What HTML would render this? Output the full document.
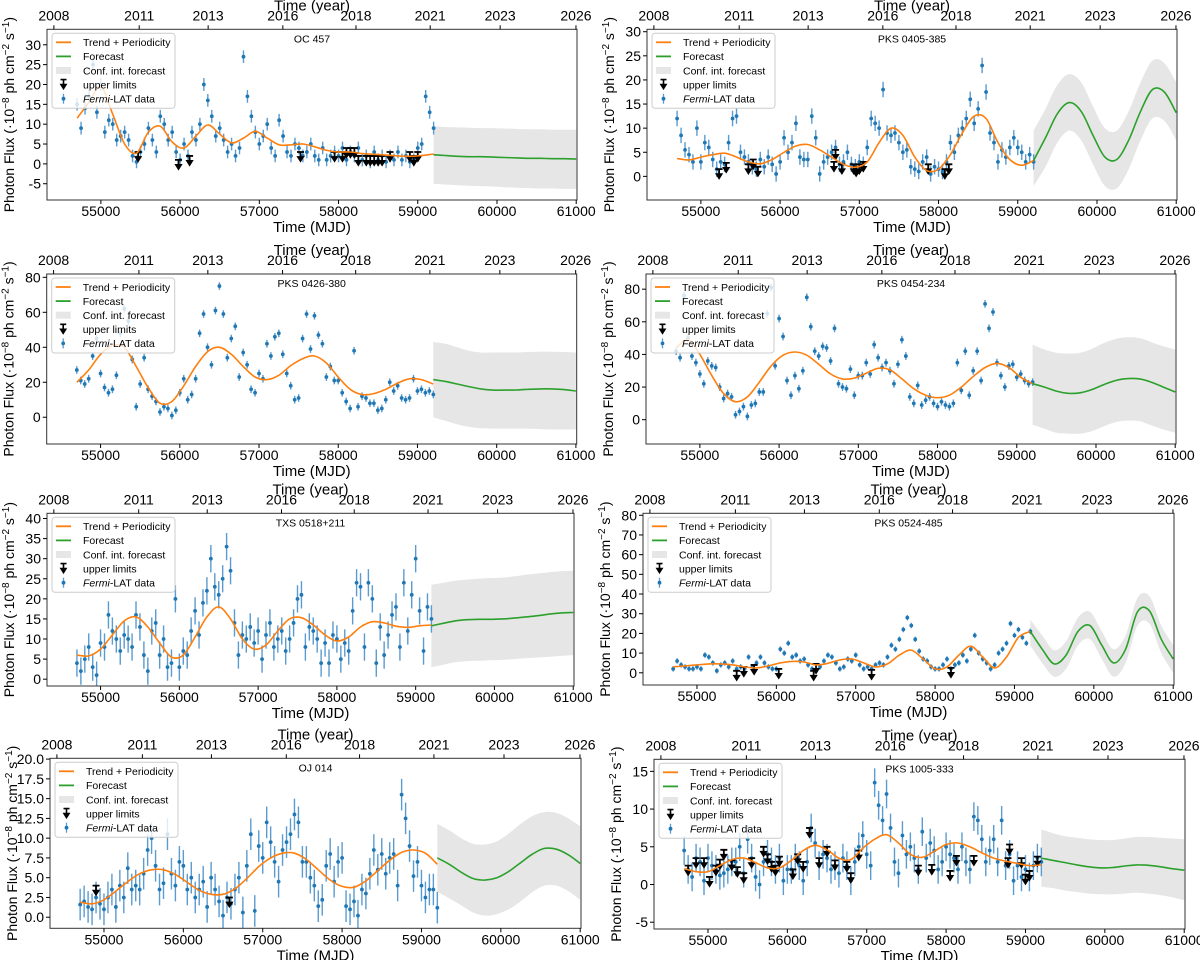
<!DOCTYPE html>
<html><head><meta charset="utf-8">
<style>
html,body{margin:0;padding:0;background:#fff;}
svg{display:block;font-family:"Liberation Sans",sans-serif;}
</style></head>
<body>
<svg id="fig" width="1200" height="960" viewBox="0 0 1200 960" xmlns="http://www.w3.org/2000/svg"></svg>
<script>
const MJD=[54700,54750,54800,54850,54900,54950,55000,55050,55100,55150,55200,55250,55300,55350,55400,55450,55500,55550,55600,55650,55700,55750,55800,55850,55900,55950,56000,56050,56100,56150,56200,56250,56300,56350,56400,56450,56500,56550,56600,56650,56700,56750,56800,56850,56900,56950,57000,57050,57100,57150,57200,57250,57300,57350,57400,57450,57500,57550,57600,57650,57700,57750,57800,57850,57900,57950,58000,58050,58100,58150,58200,58250,58300,58350,58400,58450,58500,58550,58600,58650,58700,58750,58800,58850,58900,58950,59000,59050,59100,59150,59200];
const TREND_MJD=[54700,54850,55000,55150,55300,55450,55600,55750,55900,56050,56200,56350,56500,56650,56800,56950,57100,57250,57400,57550,57700,57850,58000,58150,58300,58450,58600,58750,58900,59050,59200];
const FC_MJD=[59200,59350,59500,59650,59800,59950,60100,60250,60400,60550,60700,60850,61000];
const MJD_TICKS=[55000,56000,57000,58000,59000,60000,61000];
const YEAR_POS=[54407,55484,56354,57297,58220,59157,60040,60997];
const YEAR_LABELS=["2008","2011","2013","2016","2018","2021","2023","2026"];

// Panel 1: OC 457
const p1Flux=[15,9,14,17,25,13,20,8,11,10,6,7,8,6,2,0.5,3,5,9,6,3,12,10,6,8,3,1,5,2,8,6,10,20,16,12,7,9,6,3,5,2,4,27,17,12,8,5,7,10,4,2,11,7,3,2,5,4,2,3,5,2,1,4,1,2,3,2,4,1,3,2,4,1,2,0.5,3,1,2,0.5,2,1,3,1,2,0.5,1,4,5,17,13,9];
const p1Trend=[11.5,15.5,19.5,12.5,5,2.7,8,9.5,5.5,4,7,9.8,7.5,5.3,6.5,8.2,6.5,4.8,4.8,5,4.3,3.4,3,3,2.6,2.4,2.2,2,1.9,2.1,2.5];
const p1Fc=[2.3,2.1,1.9,1.8,1.8,1.7,1.6,1.5,1.4,1.4,1.3,1.3,1.2];
const p1Up=[9.5,9.3,9.2,9.1,9,9,8.9,8.8,8.7,8.7,8.6,8.6,8.6];
const p1Lo=[-5,-5.2,-5.4,-5.5,-5.6,-5.7,-5.9,-6,-6.1,-6.2,-6.2,-6.3,-6.3];
const p1ULmjd=[55470,55980,56120,57520,57950,58050,58100,58150,58200,58250,58350,58400,58450,58500,58550,58650,58900,58950,59000];
const p1ULval=[3,1,2,3,3,3,4,4,4,2,2,2,2,2,2,3,3,2,3];

// Panel 2: PKS 0405-385
const p2Flux=[12,8.5,5.5,4.5,3,10,3,7,6,3.5,1.5,3,2.5,7,12,12.5,5,4,3,2,1.5,3.5,2,4,2.5,0.5,3,8,5,7,11,4,3.5,3.5,12.5,8,0.5,3,4,5,6,2.5,3,5,2.5,2,3,2.5,6,12,11,10,18,9,8.5,9,7,5,5.5,2,1.5,1,3,4,0.5,2,1.5,1,3,7,5,8.5,10,12,16,11,14,23,17.5,9,7,3,5.5,4,6,8,6,5,3,4.5,3];
const p2Trend=[3.7,3.4,4,4.5,4.8,4,3,2.6,3.5,5,6.3,6.6,5.5,4,2.5,1.9,3,7,10,8.5,4,1.2,1.5,4.5,9,12.5,12,7,3.5,2.3,3.3];
const p2Fc=[3.3,8,13,15.3,13.5,8.5,4,3.5,7.5,13.5,18,17.5,13.2];
const p2Up=[9.5,14,19,21.2,19.5,14.5,10,9.5,13.5,19.5,24,23.5,19.5];
const p2Lo=[-2,2,7,9.5,7.5,2.5,-2,-2.5,1.5,7.5,12,11.5,7.5];
const p2ULmjd=[55230,55320,55600,55660,55720,56680,56700,56780,56930,56960,57000,57050,57870,58080,58130];
const p2ULval=[1.5,2.8,2.5,3.5,2,3,5.5,2.5,2.5,2,2.5,3,2.5,1.5,2.5];

// Panel 3: PKS 0426-380
const p3Flux=[27,21,19,22,35,45,25,17,14,16,24,48,62,55,33,6,19,34,16,12,9,3,6,5,1,4,14,22,10,13,22,48,59,40,30,61,75,59,34,45,52,23,37,30,16,14,25,22,42,35,46,48,36,25,18,10,11,45,59,39,58,47,42,23,29,21,21,14,9,5,38,6,12,11,8,8,4,5,10,20,15,18,11,10,11,22,15,16,14,15,13];
const p3Trend=[20,27,36,41,40,29,17,8,9,18,29,37.5,40,36,29,23,21.5,24,29.5,33.5,35,31,23,16,13,13.5,16,19.5,22,21.5,19];
const p3Fc=[21.5,20.5,19,17.5,16.2,15.5,15.5,15.6,16,16.2,16.2,15.8,15];
const p3Up=[43,42,40,38,37,37,37,37,37.3,37.5,37.5,37.3,37];
const p3Lo=[0,-2,-4,-5.5,-6.3,-6.5,-6.5,-6.5,-6.6,-6.8,-7,-7,-7];
const p3ULmjd=[];
const p3ULval=[];

// Panel 4: PKS 0454-234
const p4Flux=[42,38,76,50,39,35,28,22,36,33,32,20,13,16,14,3,5,8,2,9,10,17,17,65,81,33,62,51,24,15,27,19,30,75,57,42,39,45,44,36,56,22,20,19,31,15,27,27,35,28,46,38,32,35,30,22,34,49,39,14,10,21,9,12,14,10,8,11,9,8,10,35,18,42,15,30,42,24,71,56,66,35,27,20,33,34,26,28,24,22,23];
const p4Trend=[44,49,40,27,16,11,14,23,33,39.5,41.5,39.5,34,28,25,25.5,28.5,31.5,30.5,25,19,15,13.5,15,20,26.5,32,34.5,32,26,22];
const p4Fc=[22,20,17.5,16.2,16.5,18.5,21.5,24,25.2,25,23,20,17];
const p4Up=[46,43,41,40.5,41,43.5,47,49.5,50.5,50,47.5,45,43];
const p4Lo=[-3,-5.5,-8,-8.5,-8.5,-7,-4,-1.5,-0.5,-1,-3.5,-6,-8];
const p4ULmjd=[];
const p4ULval=[];

// Panel 5: TXS 0518+211
const p5Flux=[4,2,5,8,3,1,9,8,16,12,10,7,11,10,8,16,13,6,2,12,14,6,10,3,4,20,3,7,6,12,17,11,19,22,30,23,21,25,33,27,14,6,11,10,13,9,12,5,11,14,8,10,12,7,10,14,20,21,8,13,12,10,4,9,4,11,10,5,9,7,17,24,23,8,24,20,4,13,6,11,16,18,8,24,12,21,30,17,7,18,15];
const p5Trend=[6,5.8,7.5,11,14.5,15.5,13,9,5.5,6,10.5,15.5,18,15,10,7.5,8.5,12,15,15.3,13.5,11,9.5,10.5,13,14.3,14,13.2,12.9,13.3,13.5];
const p5Fc=[13.3,13.9,14.5,14.8,14.9,14.9,15,15.2,15.5,15.8,16.2,16.5,16.6];
const p5Up=[23.5,24,24.5,24.8,25,25.2,25.3,25.6,26,26.3,26.6,26.9,27];
const p5Lo=[3,3.6,4.2,4.5,4.6,4.7,4.8,5,5.2,5.4,5.6,5.8,6];
const p5ULmjd=[];
const p5ULval=[];

// Panel 6: PKS 0524-485
const p6Flux=[2,6,4,3,2,2,3,2,9,8,5,1,4,5,3,6,2,3,2,8,3,5,8,5,3,2,2,12,10,15,8,9,6,7,4,2,1,3,6,9,8,5,2,3,7,6,9,4,2,3,2,4,5,4,8,14,12,17,22,28,24,17,11,7,6,3,2,2,4,7,2,4,5,9,6,12,19,10,7,5,2,4,10,12,15,25,19,22,18,15,21];
const p6Trend=[3,3.5,4,4.5,4.5,4,3,2.5,3.5,5,5.8,5.5,4,4.8,6.5,7,5,3,4.5,9,11.5,7,2,3,9,13.5,8,2.5,8,18,21];
const p6Fc=[21,12,4.5,9,21,24,14,5,12,31,31.5,17,7];
const p6Up=[27,19,11.5,16,28,31,21,12,19,38,39,24,14];
const p6Lo=[14,5,-2,2,14,17,7,-2,5,24,25,10,0];
const p6ULmjd=[55500,55590,55720,56030,56470,56500,57200,58200];
const p6ULval=[1,3,4,2,1,4.5,1.5,2.5];

// Panel 7: OJ 014
const p7Flux=[1.6,2,1.3,1,2.5,1.7,1,2.5,3.5,1.3,4,2.5,6.2,3.5,4,3.5,5.5,8.5,10,6.5,3.5,4.3,10.5,5.5,4,7,6.5,3.5,5,2.5,3.5,4.5,1.3,5,3.5,2,0.2,2.5,1.7,3.5,5,0.6,6.5,10.5,0.8,9,7.5,12,9.5,7,4.5,8.5,9.5,10.5,13,12,7,7,5,4,1.4,2.2,6.5,8,4.5,7,7.5,1.4,1,2,0.2,3.5,3,5.5,8.5,6,8,5.5,7.5,8,4,15.5,12.5,9,5.2,7,4,2.5,3.5,3.5,1.2];
const p7Trend=[1.9,1.7,2.2,3.3,4.5,5.5,6,6,5.4,4.4,3.4,2.9,2.9,3.6,4.9,6.4,7.5,8.1,8.1,7.3,6,4.7,3.9,3.8,4.6,5.9,7.2,8.2,8.5,8.1,6.7];
const p7Fc=[7.5,6.7,5.7,4.9,4.7,5,5.8,6.9,8,8.7,8.6,7.9,6.8];
const p7Up=[11.8,11,10,9.3,9.2,9.6,10.6,11.8,12.8,13.3,13.2,12.5,11.5];
const p7Lo=[3.2,2.4,1.5,0.6,0.2,0.4,1,2,3.2,4,4,3.3,2.2];
const p7ULmjd=[54900,56580];
const p7ULval=[4,2.5];

// Panel 8: PKS 1005-333
const p8Flux=[4.5,2,1,3.5,3,0.5,3.5,2.5,2,1.2,1.5,2,3,3,5,1.5,6,3.5,1,0,3,4,3,2,3.5,0.5,2,2,3.5,2.5,0.5,3,7.5,5.5,2.5,4,3.5,2,2.5,1.5,3.5,2.5,0.5,3,5,6.5,4,2.5,13.5,10.5,8.5,12,7.5,3,1.5,6.5,4,5,3.5,2,7,3.5,5.5,4.5,2,3,5,4,3.5,2,5,3,2,9,8.5,6,3,4.5,6,3,8.5,2.5,4,0.5,2.5,1,2,1,2.5,3.5,3];
const p8Trend=[2.1,1.7,1.7,2.5,3.3,3.5,2.9,2.2,2.2,3.2,4.5,5.2,4.6,3.5,3.3,4.8,6,6.6,5.5,4,3.6,4.4,5.3,5.5,5,4.2,3.5,3.1,2.8,2.5,2.6];
const p8Fc=[3.5,3.2,2.9,2.6,2.35,2.2,2.25,2.45,2.6,2.55,2.35,2.1,1.9];
const p8Up=[7.3,6.8,6.4,6.2,6,5.9,5.9,6.1,6.3,6.3,6.2,6.1,6];
const p8Lo=[-0.3,-0.5,-0.8,-1,-1.2,-1.3,-1.3,-1.2,-1.1,-1.2,-1.4,-1.7,-2.1];
const p8ULmjd=[54750,54850,54950,55020,55100,55150,55200,55300,55370,55450,55550,55700,55750,55800,55850,55900,56070,56130,56200,56280,56400,56500,56600,56750,56800,56900,57650,57820,58050,58130,58350,58780,58800,58950,59000,59050,59150];
const p8ULval=[2.5,3.5,3.5,1,2.5,3.3,4.6,3.2,2.3,1.5,3.5,5,4,3,2.5,3.7,2,4,3,7.5,3.5,5,3.2,3,1.5,4.5,2.5,2.6,1.8,3.8,3.8,3.5,5.3,3.5,1.3,1.8,3.7];

const PANELS=[
 {key:'oc-457',title:'OC 457',fx:47,fy:29.3,fw:530,fh:170.7,ymin:-9.1,ymax:33.9,ticks:[-5,0,5,10,15,20,25,30],dec:0,err:1.6,flux:p1Flux,trend:p1Trend,fc:p1Fc,up:p1Up,lo:p1Lo,ulm:p1ULmjd,ulv:p1ULval},
 {key:'pks-0405-385',title:'PKS 0405-385',fx:647,fy:29.3,fw:530,fh:170.7,ymin:-4.9,ymax:30.5,ticks:[0,5,10,15,20,25,30],dec:0,err:1.6,flux:p2Flux,trend:p2Trend,fc:p2Fc,up:p2Up,lo:p2Lo,ulm:p2ULmjd,ulv:p2ULval},
 {key:'pks-0426-380',title:'PKS 0426-380',fx:46.7,fy:274,fw:530,fh:170,ymin:-15.3,ymax:81.9,ticks:[0,20,40,60,80],dec:0,err:2.2,flux:p3Flux,trend:p3Trend,fc:p3Fc,up:p3Up,lo:p3Lo,ulm:p3ULmjd,ulv:p3ULval},
 {key:'pks-0454-234',title:'PKS 0454-234',fx:646,fy:274,fw:530,fh:170,ymin:-14.9,ymax:89.3,ticks:[0,20,40,60,80],dec:0,err:2.4,flux:p4Flux,trend:p4Trend,fc:p4Fc,up:p4Up,lo:p4Lo,ulm:p4ULmjd,ulv:p4ULval},
 {key:'txs-0518-211',title:'TXS 0518+211',fx:47,fy:513.3,fw:527,fh:172.7,ymin:-1.7,ymax:41.3,ticks:[0,5,10,15,20,25,30,35,40],dec:0,err:3.4,flux:p5Flux,trend:p5Trend,fc:p5Fc,up:p5Up,lo:p5Lo,ulm:p5ULmjd,ulv:p5ULval},
 {key:'pks-0524-485',title:'PKS 0524-485',fx:643,fy:513.3,fw:531,fh:171.7,ymin:-6.2,ymax:81,ticks:[0,10,20,30,40,50,60,70,80],dec:0,err:1.4,flux:p6Flux,trend:p6Trend,fc:p6Fc,up:p6Up,lo:p6Lo,ulm:p6ULmjd,ulv:p6ULval},
 {key:'oj-014',title:'OJ 014',fx:50,fy:758.3,fw:531,fh:170,ymin:-1.4,ymax:20.1,ticks:[0,2.5,5,7.5,10,12.5,15,17.5,20],dec:1,err:2,flux:p7Flux,trend:p7Trend,fc:p7Fc,up:p7Up,lo:p7Lo,ulm:p7ULmjd,ulv:p7ULval},
 {key:'pks-1005-333',title:'PKS 1005-333',fx:654,fy:759.3,fw:531,fh:169.7,ymin:-5.9,ymax:16.6,ticks:[-5,0,5,10,15],dec:0,err:1.9,flux:p8Flux,trend:p8Trend,fc:p8Fc,up:p8Up,lo:p8Lo,ulm:p8ULmjd,ulv:p8ULval}
];
const XMIN=54320, XMAX=61010;
const NS='http://www.w3.org/2000/svg';
const svg=document.getElementById('fig');
function mk(tag,attrs,parent){const e=document.createElementNS(NS,tag);for(const k in attrs)e.setAttribute(k,attrs[k]);(parent||svg).appendChild(e);return e;}
function smooth(pts){let d='M'+pts[0][0].toFixed(1)+','+pts[0][1].toFixed(1);
 for(let i=0;i<pts.length-1;i++){const p0=pts[i-1]||pts[i],p1=pts[i],p2=pts[i+1],p3=pts[i+2]||p2;
  const c1=[p1[0]+(p2[0]-p0[0])/6,p1[1]+(p2[1]-p0[1])/6],c2=[p2[0]-(p3[0]-p1[0])/6,p2[1]-(p3[1]-p1[1])/6];
  d+='C'+c1[0].toFixed(1)+','+c1[1].toFixed(1)+' '+c2[0].toFixed(1)+','+c2[1].toFixed(1)+' '+p2[0].toFixed(1)+','+p2[1].toFixed(1);}
 return d;}

PANELS.forEach(P=>{
 const g=mk('g',{});
 
 
 const X=m=>P.fx+(m-XMIN)/(XMAX-XMIN)*P.fw;
 const Y=v=>P.fy+(P.ymax-v)/(P.ymax-P.ymin)*P.fh;
 const clip='clip-'+P.key;
 const cp=mk('clipPath',{id:clip},g);mk('rect',{x:P.fx,y:P.fy,width:P.fw,height:P.fh},cp);
 const plot=mk('g',{'clip-path':'url(#'+clip+')'},g);
 const up=smooth(FC_MJD.map((m,i)=>[X(m),Y(P.up[i])]));
 const loPts=FC_MJD.map((m,i)=>[X(m),Y(P.lo[i])]).reverse();
 const lo=smooth(loPts).replace(/^M/,'L');
 const band=mk('path',{d:up+lo+'Z',fill:'#e6e6e6',stroke:'none'},plot);
 
 
 const dg=mk('g',{},plot);
 
 
 const n=Math.min(MJD.length,P.flux.length);
 for(let i=0;i<n;i++){const x=X(MJD[i]);
  const e=mk('line',{x1:x,x2:x,y1:Y(P.flux[i]-P.err),y2:Y(P.flux[i]+P.err),stroke:'#5b9bd0','stroke-width':1.4},dg);
  
  
  const c=mk('circle',{cx:x,cy:Y(P.flux[i]),r:1.9,fill:'#1f77b4'},dg);
  
  }
 for(let i=0;i<P.ulm.length;i++){const x=X(P.ulm[i]),y=Y(P.ulv[i]);
  const u=mk('path',{d:`M${x-3.5},${y}H${x+3.5}M${x},${y}V${y+7}M${x-2.5},${y+5}L${x},${y+9}L${x+2.5},${y+5}Z`,stroke:'#000','stroke-width':1.8,fill:'#000'},plot);
  
  }
 const tr=mk('path',{d:smooth(TREND_MJD.map((m,i)=>[X(m),Y(P.trend[i])])),fill:'none',stroke:'#ff7f0e','stroke-width':1.6},plot);
 
 
 const fcl=mk('path',{d:smooth(FC_MJD.map((m,i)=>[X(m),Y(P.fc[i])])),fill:'none',stroke:'#2ca02c','stroke-width':1.6},plot);
 
 
 const fr=mk('rect',{x:P.fx,y:P.fy,width:P.fw,height:P.fh,fill:'none',stroke:'#333','stroke-width':1},g);
 
 
 MJD_TICKS.forEach(m=>{const x=X(m);
  mk('line',{x1:x,x2:x,y1:P.fy+P.fh,y2:P.fy+P.fh+4,stroke:'#000'},g);
  const t=mk('text',{x:x,y:P.fy+P.fh+16,'text-anchor':'middle','font-size':14},g);t.textContent=m;
  
  });
 const xt=mk('text',{x:P.fx+P.fw/2,y:P.fy+P.fh+32,'text-anchor':'middle','font-size':15},g);xt.textContent='Time (MJD)';
 
 
 YEAR_POS.forEach((m,i)=>{const x=X(m);
  mk('line',{x1:x,x2:x,y1:P.fy,y2:P.fy-4,stroke:'#000'},g);
  const t=mk('text',{x:x,y:P.fy-9,'text-anchor':'middle','font-size':14},g);t.textContent=YEAR_LABELS[i];
  
  });
 const yt=mk('text',{x:P.fx+P.fw/2,y:P.fy-19,'text-anchor':'middle','font-size':15},g);yt.textContent='Time (year)';
 
 
 P.ticks.forEach(v=>{const y=Y(v);
  mk('line',{x1:P.fx,x2:P.fx-4,y1:y,y2:y,stroke:'#000'},g);
  const t=mk('text',{x:P.fx-6,y:y+5,'text-anchor':'end','font-size':14},g);t.textContent=v.toFixed(P.dec);
  
  });
 const cy=P.fy+P.fh/2, lx=P.fx-33;
 const yl=mk('text',{x:lx,y:cy,'text-anchor':'middle','font-size':14,transform:`rotate(-90 ${lx} ${cy})`},g);
 yl.innerHTML='Photon Flux  (·10<tspan dy="-5" font-size="10">−8</tspan><tspan dy="5"> ph cm</tspan><tspan dy="-5" font-size="10">−2</tspan><tspan dy="5"> s</tspan><tspan dy="-5" font-size="10">−1</tspan><tspan dy="5">)</tspan>';
 
 
 const st=mk('text',{x:P.fx+P.fw/2,y:P.fy+13,'text-anchor':'middle','font-size':10.5},g);st.textContent=P.title;
 
 
 const lg=mk('g',{},g);
 
 
 const lx0=P.fx+5, ly0=P.fy+4;
 mk('rect',{x:lx0,y:ly0,width:123,height:75,rx:3,fill:'#fff','fill-opacity':0.8,stroke:'#ccc'},lg);
 const labels=['Trend + Periodicity','Forecast','Conf. int. forecast','upper limits','Fermi-LAT data'];
 labels.forEach((lab,i)=>{const yy=ly0+9+i*14.1;
  const ent=mk('g',{},lg);
  
  
  if(i===0)mk('line',{x1:lx0+4,x2:lx0+19,y1:yy,y2:yy,stroke:'#ff7f0e','stroke-width':1.8},ent);
  if(i===1)mk('line',{x1:lx0+4,x2:lx0+19,y1:yy,y2:yy,stroke:'#2ca02c','stroke-width':1.8},ent);
  if(i===2)mk('rect',{x:lx0+4,y:yy-3.5,width:15,height:7,fill:'#e6e6e6'},ent);
  if(i===3){const x=lx0+11.5;mk('path',{d:`M${x-3},${yy-5}H${x+3}M${x},${yy-5}V${yy+1}M${x-2.5},${yy}L${x},${yy+4}L${x+2.5},${yy}Z`,stroke:'#000','stroke-width':1.6,fill:'#000'},ent);}
  if(i===4){const x=lx0+11.5;mk('line',{x1:x,x2:x,y1:yy-5,y2:yy+5,stroke:'#5b9bd0','stroke-width':1.3},ent);mk('circle',{cx:x,cy:yy,r:1.9,fill:'#1f77b4'},ent);}
  const t=mk('text',{x:lx0+31,y:yy+3.8,'font-size':10.5},ent);
  if(i===4)t.innerHTML='<tspan font-style="italic">Fermi</tspan>-LAT data';else t.textContent=lab;});
});
</script>
</body></html>
